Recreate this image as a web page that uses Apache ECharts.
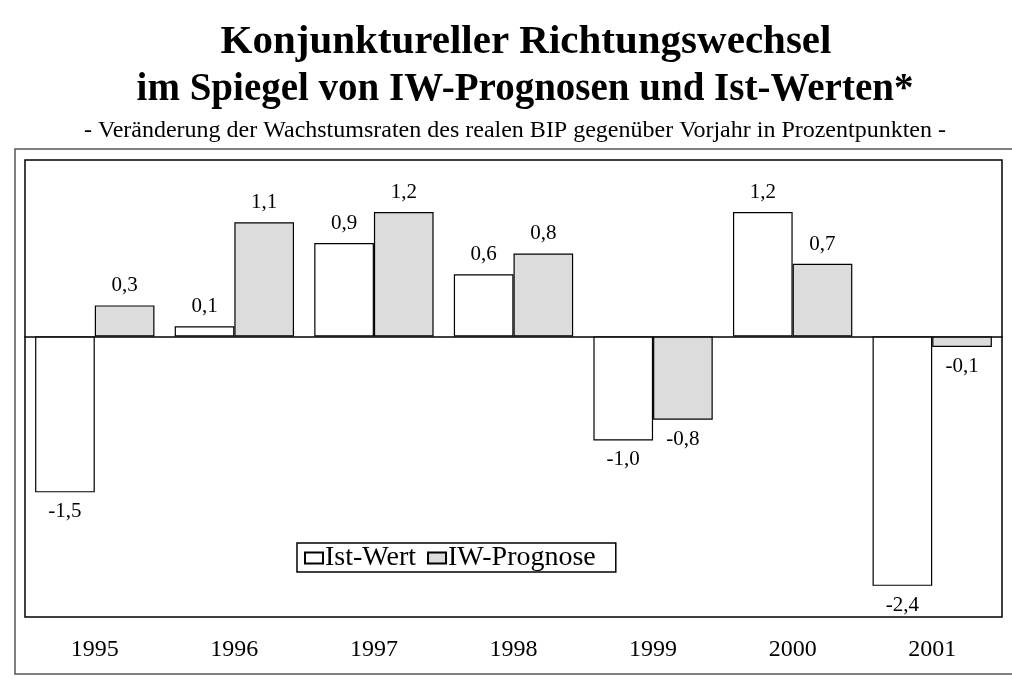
<!DOCTYPE html>
<html>
<head>
<meta charset="utf-8">
<script src="https://cdn.jsdelivr.net/npm/echarts@6/dist/echarts.min.js"></script>
<style>
  html, body { margin: 0; padding: 0; background: #fff; }
  #chart { width: 1012px; height: 679px; }
</style>
</head>
<body>
<div id="chart"></div>
<script>
// Jahre
var years = ['1995', '1996', '1997', '1998', '1999', '2000', '2001'];
// Veränderung der Wachstumsraten in Prozentpunkten
var istWerte = [-1.5, 0.1, 0.9, 0.6, -1.0, 1.2, -2.4];
var iwPrognose = [0.3, 1.1, 1.2, 0.8, -0.8, 0.7, -0.1];

var serif = '"Liberation Serif", "Times New Roman", serif';

function fmt(v) {
    return v.toFixed(1).replace('.', ',');
}
// label oben bei positiven, unten bei negativen Werten
function toItems(arr) {
    var out = [];
    for (var i = 0; i < arr.length; i++) {
        out.push({
            value: arr[i],
            label: { position: arr[i] < 0 ? 'bottom' : 'top' }
        });
    }
    return out;
}

var chart = echarts.init(document.getElementById('chart'));
var option = {
    backgroundColor: '#fff',
    animation: false,
    title: [
        {
            text: 'Konjunktureller Richtungswechsel',
            left: 521, top: 17, textAlign: 'center',
            textStyle: { fontFamily: serif, fontWeight: 'bold', fontSize: 41, color: '#000' }
        },
        {
            text: 'im Spiegel von IW-Prognosen und Ist-Werten*',
            left: 520, top: 65, textAlign: 'center',
            textStyle: { fontFamily: serif, fontWeight: 'bold', fontSize: 39, color: '#000' }
        },
        {
            text: '- Veränderung der Wachstumsraten des realen BIP gegenüber Vorjahr in Prozentpunkten -',
            left: 510, top: 114, textAlign: 'center',
            textStyle: { fontFamily: serif, fontWeight: 'normal', fontSize: 24, color: '#000' }
        }
    ],
    graphic: [
        {
            type: 'rect',
            shape: { x: 15, y: 149, width: 1020, height: 525 },
            style: { fill: 'none', stroke: '#555', lineWidth: 1.5 },
            z: -1
        }
    ],
    legend: {
        left: 297, top: 543,
        padding: [1, 20, 0, 7],
        borderColor: '#000',
        borderWidth: 1.5,
        backgroundColor: '#fff',
        icon: 'rect',
        itemWidth: 18, itemHeight: 11, itemGap: 11,
        textStyle: { fontFamily: serif, fontSize: 28, color: '#000', padding: [0, 0, 0, -3] },
        data: ['Ist-Wert', 'IW-Prognose']
    },
    grid: {
        left: 25, top: 160, width: 977, height: 457,
        show: true, borderColor: '#000', borderWidth: 1.5
    },
    xAxis: [
        {
            type: 'category', data: years,
            axisLine: { onZero: true, lineStyle: { color: '#000', width: 1.5 } },
            axisTick: { show: false }, axisLabel: { show: false },
            splitLine: { show: false }
        },
        {
            type: 'category', data: years, position: 'bottom',
            axisLine: { show: false, onZero: false }, axisTick: { show: false },
            axisLabel: { margin: 21, fontFamily: serif, fontSize: 24, color: '#000' }
        }
    ],
    yAxis: {
        type: 'value', min: -2.7, max: 1.7, show: false,
        splitLine: { show: false }
    },
    series: [
        {
            name: 'Ist-Wert', type: 'bar', xAxisIndex: 0,
            data: toItems(istWerte),
            barGap: '0%', barCategoryGap: '14.5%',
            itemStyle: { color: '#fff', borderColor: '#000', borderWidth: 1.2 },
            label: {
                show: true, distance: 9, fontFamily: serif, fontSize: 21, color: '#000',
                formatter: function (p) { return fmt(p.value); }
            }
        },
        {
            name: 'IW-Prognose', type: 'bar', xAxisIndex: 0,
            data: toItems(iwPrognose),
            barGap: '0%', barCategoryGap: '14.5%',
            itemStyle: { color: '#dcdcdc', borderColor: '#000', borderWidth: 1.2 },
            label: {
                show: true, distance: 9, fontFamily: serif, fontSize: 21, color: '#000',
                formatter: function (p) { return fmt(p.value); }
            }
        }
    ]
};
chart.setOption(option);
</script>
</body>
</html>
